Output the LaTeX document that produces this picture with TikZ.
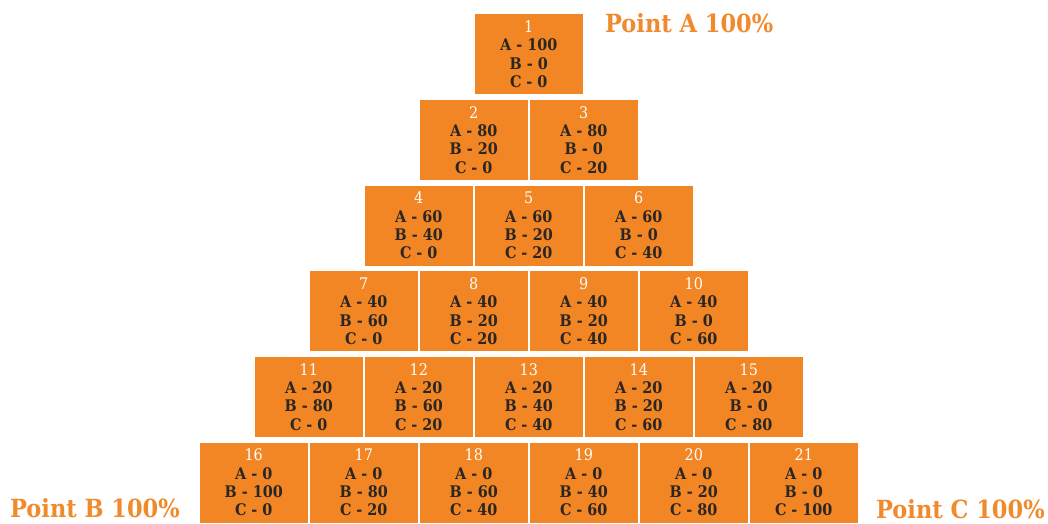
\documentclass[tikz,border=0pt]{standalone}
\usepackage{fontspec}
\IfFontExistsTF{DejaVu Serif Condensed}
  {\setmainfont{DejaVu Serif Condensed}}
  {\setmainfont{DejaVu Serif}}
\definecolor{orng}{HTML}{F28524}
\definecolor{lbl}{HTML}{F08A2C}
\definecolor{txt}{HTML}{2A2623}
\begin{document}
\begin{tikzpicture}[x=1pt,y=-1pt,
  cell/.style={fill=orng, minimum width=107.5pt, minimum height=80pt, inner sep=0pt,
    align=center, text=txt, font=\bfseries\fontsize{16}{18.3}\selectfont},
  ptlabel/.style={text=lbl, font=\bfseries\fontsize{25}{30}\selectfont, inner sep=0pt, anchor=base west}]
\useasboundingbox (0,0) rectangle (1048,524);
\foreach \n/\row/\col/\va/\vb/\vc in {1/0/0/100/0/0, 2/1/0/80/20/0, 3/1/1/80/0/20,
  4/2/0/60/40/0, 5/2/1/60/20/20, 6/2/2/60/0/40,
  7/3/0/40/60/0, 8/3/1/40/20/20, 9/3/2/40/20/40, 10/3/3/40/0/60,
  11/4/0/20/80/0, 12/4/1/20/60/20, 13/4/2/20/40/40, 14/4/3/20/20/60, 15/4/4/20/0/80,
  16/5/0/0/100/0, 17/5/1/0/80/20, 18/5/2/0/60/40, 19/5/3/0/40/60, 20/5/4/0/20/80, 21/5/5/0/0/100}
  \node[cell] (b\n) at ({528.75-55*\row+110*\col},{54.3+85.65*\row})
    {{\color{white}\mdseries\n}\\A - \va\\B - \vb\\C - \vc};
\node[ptlabel] (pa) at (605,32.7) {Point A 100\%};
\node[ptlabel] (pb) at (10,517.7) {Point B 100\%};
\node[ptlabel] (pc) at (876,518) {Point C 100\%};
\end{tikzpicture}
\end{document}
